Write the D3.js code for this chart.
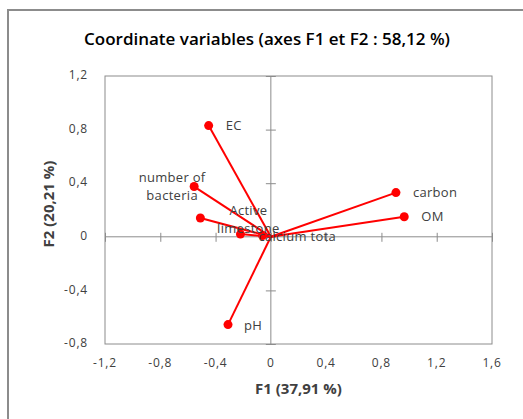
<!DOCTYPE html>
<html>
<head>
<meta charset="utf-8">
<script src="https://cdn.jsdelivr.net/npm/d3@7"></script>
<style>
    body { margin: 0; background: white; }
    text { font-family: "Open Sans", sans-serif; }
</style>
</head>
<body>
<div id="chart"></div>
<script>
// variables of the PCA, coordinates on F1 and F2
const variables = ["EC", "number of bacteria", "Active limestone", "calcium tota", "", "carbon", "OM", "pH"];
const f1 = [-0.45, -0.555, -0.51, -0.22, -0.06, 0.905, 0.965, -0.31];
const f2 = [0.83, 0.375, 0.14, 0.02, 0.01, 0.33, 0.15, -0.655];

const xTicks = [-1.2, -0.8, -0.4, 0, 0.4, 0.8, 1.2, 1.6];
const yTicks = [-0.8, -0.4, 0, 0.4, 0.8, 1.2];

// where the labels sit relative to the point (moved by hand in the original)
const labelPlace = [
    {dx: 17, dy: 0, anchor: "start"},
    {dx: -22, dy: 0, anchor: "middle"},
    {dx: 48, dy: 1, anchor: "middle"},
    {dx: 18, dy: 2, anchor: "start"},
    {dx: 0, dy: 0, anchor: "start"},
    {dx: 17, dy: 0, anchor: "start"},
    {dx: 17, dy: 0, anchor: "start"},
    {dx: 16, dy: 1, anchor: "start"}
];

const width = 523, height = 419;
const margin = {top: 76, right: 31, bottom: 75, left: 105};

const svg = d3.select("#chart")
    .append("svg")
    .attr("width", width)
    .attr("height", height);

// outer frame of the chart (goes off the picture on right and bottom)
svg.append("rect")
    .attr("x", 8)
    .attr("y", 10)
    .attr("width", 600)
    .attr("height", 600)
    .attr("fill", "white")
    .attr("stroke", "#8c8c8c")
    .attr("stroke-width", 2);

const x = d3.scaleLinear()
    .domain([-1.2, 1.6])
    .range([margin.left, width - margin.right]);

const y = d3.scaleLinear()
    .domain([-0.8, 1.2])
    .range([height - margin.bottom, margin.top]);

// plot area box
svg.append("rect")
    .attr("x", x(-1.2))
    .attr("y", y(1.2))
    .attr("width", x(1.6) - x(-1.2))
    .attr("height", y(-0.8) - y(1.2))
    .attr("fill", "none")
    .attr("stroke", "#8c8c8c")
    .attr("stroke-width", 1);

// axes crossing at zero, with cross ticks
const xAxis = d3.axisBottom(x).tickValues(xTicks).tickSize(5).tickFormat("");
const gx = svg.append("g")
    .attr("transform", "translate(0," + y(0) + ")")
    .call(xAxis);
gx.selectAll(".tick line").attr("y1", -4).attr("y2", 5);

const yAxis = d3.axisLeft(y).tickValues(yTicks).tickSize(5).tickFormat("");
const gy = svg.append("g")
    .attr("transform", "translate(" + x(0) + ",0)")
    .call(yAxis);
gy.selectAll(".tick line").attr("x1", 5).attr("x2", -5);

svg.selectAll(".domain, .tick line")
    .attr("stroke", "#8c8c8c");
// the x-axis line spans the whole box
gx.select(".domain").attr("d", "M" + x(-1.2) + ",0H" + x(1.6));
gy.select(".domain").attr("d", "M0," + y(1.2) + "V" + y(-0.8));

// excel style: comma decimals and a plain hyphen
const fmt = function(d) { return d === 0 ? "0" : d3.format(".1f")(d).replace(".", ",").replace("\u2212", "-"); };

// tick labels sit outside the box
svg.append("g").selectAll("text")
    .data(xTicks)
    .enter().append("text")
    .attr("x", d => x(d))
    .attr("y", y(-0.8) + 20)
    .attr("text-anchor", "middle")
    .attr("dominant-baseline", "middle")
    .style("font-size", "12px")
    .style("letter-spacing", "0.8px")
    .style("fill", "#404040")
    .text(fmt);

svg.append("g").selectAll("text")
    .data(yTicks)
    .enter().append("text")
    .attr("x", x(-1.2) - 17)
    .attr("y", d => y(d))
    .attr("text-anchor", "end")
    .attr("dominant-baseline", "middle")
    .style("font-size", "12px")
    .style("letter-spacing", "0.8px")
    .style("fill", "#404040")
    .text(fmt);

// lines from origin to each variable
const idx = d3.range(variables.length);

svg.append("g").selectAll("line")
    .data(idx)
    .enter().append("line")
    .attr("x1", x(0))
    .attr("y1", y(0))
    .attr("x2", i => x(f1[i]))
    .attr("y2", i => y(f2[i]))
    .attr("stroke", "#ff0000")
    .attr("stroke-width", 2);

svg.append("g").selectAll("circle")
    .data(idx)
    .enter().append("circle")
    .attr("cx", i => x(f1[i]))
    .attr("cy", i => y(f2[i]))
    .attr("r", 4.5)
    .attr("fill", "#ff0000");

// labels, two words on 2 lines for the long ones
const labels = svg.append("g").selectAll("text")
    .data(idx.filter(i => variables[i] !== ""))
    .enter().append("text")
    .attr("text-anchor", i => labelPlace[i].anchor)
    .style("font-size", "13px")
    .style("letter-spacing", "0.3px")
    .style("fill", "#404040");

labels.each(function(i) {
    const t = d3.select(this);
    let lines = [variables[i]];
    if (variables[i] === "number of bacteria") lines = ["number of", "bacteria"];
    if (variables[i] === "Active limestone") lines = ["Active", "limestone"];
    const px = x(f1[i]) + labelPlace[i].dx;
    const py = y(f2[i]) + labelPlace[i].dy - (lines.length - 1) * 9;
    lines.forEach(function(l, k) {
        t.append("tspan")
            .attr("x", px)
            .attr("y", py + k * 18)
            .attr("dy", "0.35em")
            .text(l);
    });
});

// titles
svg.append("text")
    .attr("x", 267)
    .attr("y", 40)
    .attr("text-anchor", "middle")
    .attr("dominant-baseline", "middle")
    .style("font-size", "17px")
    .style("font-weight", "600")
    .style("fill", "#000")
    .text("Coordinate variables (axes F1 et F2 : 58,12 %)");

svg.append("text")
    .attr("x", (x(-1.2) + x(1.6)) / 2)
    .attr("y", 390)
    .attr("text-anchor", "middle")
    .attr("dominant-baseline", "middle")
    .style("font-size", "15px")
    .style("font-weight", "bold")
    .style("fill", "#404040")
    .text("F1 (37,91 %)");

svg.append("text")
    .attr("transform", "translate(50,204) rotate(-90)")
    .attr("text-anchor", "middle")
    .attr("dominant-baseline", "middle")
    .style("font-size", "15px")
    .style("font-weight", "bold")
    .style("fill", "#404040")
    .text("F2 (20,21 %)");
</script>
</body>
</html>
